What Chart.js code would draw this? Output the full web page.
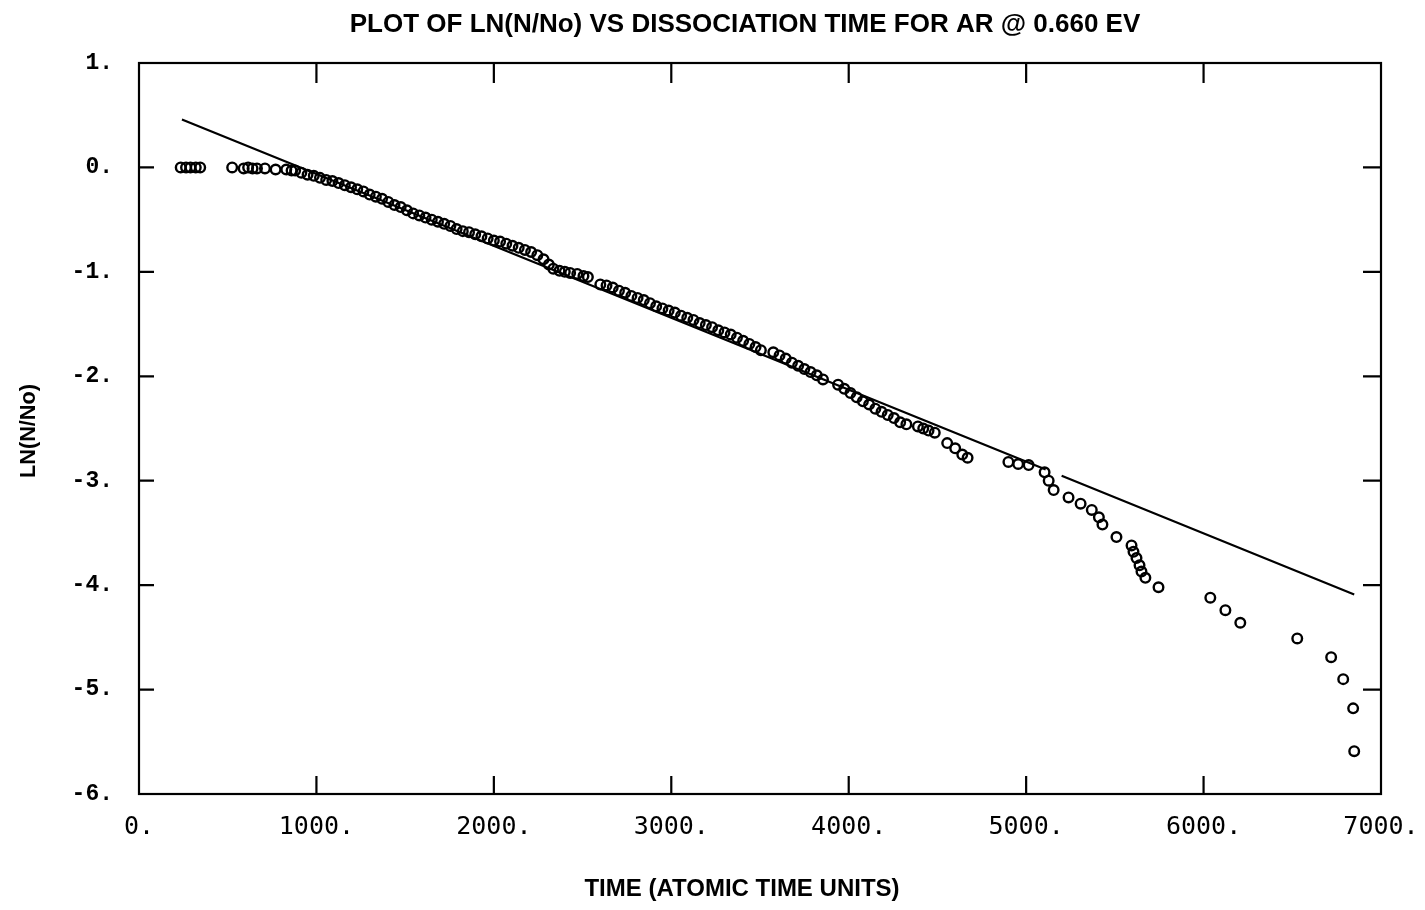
<!DOCTYPE html>
<html>
<head>
<meta charset="utf-8">
<script src="https://cdn.jsdelivr.net/npm/chart.js@4.4.0/dist/chart.umd.min.js"></script>
<style>
  html, body { margin: 0; padding: 0; background: #fff; }
  #wrap { width: 1425px; height: 910px; }
</style>
</head>
<body>
<div id="wrap"><canvas id="grafico" width="1425" height="910"></canvas></div>
<script>
// ================== Dados ==================
const titulo = 'PLOT OF LN(N/No) VS DISSOCIATION TIME FOR AR @ 0.660 EV';
const tituloX = 'TIME (ATOMIC TIME UNITS)';
const tituloY = 'LN(N/No)';

const xTicks = [0, 1000, 2000, 3000, 4000, 5000, 6000, 7000];
const yTicks = [1, 0, -1, -2, -3, -4, -5, -6];

// tempo de dissociacao (pontos "o")
const tempo = [
  235, 265, 290, 320, 345, 525, 590, 615, 640, 665, 710, 770, 830, 860,
  880, 915, 950, 985, 1020, 1055, 1090, 1125, 1160, 1195, 1230, 1265, 1300, 1335,
  1370, 1405, 1440, 1475, 1510, 1545, 1580, 1615, 1650, 1685, 1720, 1755, 1790, 1825,
  1860, 1895, 1930, 1965, 2000, 2035, 2070, 2105, 2140, 2175, 2210, 2245, 2280, 2310,
  2335, 2370, 2400, 2430, 2470, 2505, 2530, 2600, 2635, 2670, 2705, 2740, 2775, 2810,
  2845, 2880, 2915, 2950, 2985, 3020, 3055, 3090, 3125, 3160, 3195, 3230, 3265, 3300,
  3335, 3370, 3405, 3440, 3475, 3505, 3575, 3610, 3645, 3680, 3715, 3750, 3785, 3820,
  3855, 3940, 3975, 4010, 4045, 4080, 4115, 4150, 4185, 4220, 4255, 4290, 4325, 4390,
  4420, 4450, 4485, 4555, 4600, 4640, 4670,
  4900, 4955, 5014, 5104, 5127, 5155, 5239, 5307, 5370, 5410, 5430, 5509,
  5594, 5605, 5622, 5639, 5650, 5672, 5746, 6038, 6123, 6207, 6528, 6719, 6787, 6843, 6849
];
const lnN = [
  0.00, 0.00, 0.00, 0.00, 0.00, 0.00, -0.01, 0.00, -0.01, -0.01, -0.01, -0.02, -0.02, -0.03,
  -0.03, -0.05, -0.07, -0.08, -0.10, -0.12, -0.13, -0.15, -0.17, -0.19, -0.21, -0.23, -0.26, -0.28,
  -0.30, -0.33, -0.36, -0.38, -0.41, -0.44, -0.46, -0.48, -0.50, -0.52, -0.54, -0.56, -0.59, -0.61,
  -0.62, -0.64, -0.66, -0.68, -0.70, -0.71, -0.73, -0.75, -0.77, -0.79, -0.81, -0.84, -0.88, -0.93,
  -0.97, -0.99, -1.00, -1.01, -1.02, -1.04, -1.05, -1.12, -1.13, -1.15, -1.18, -1.20, -1.23, -1.25,
  -1.27, -1.30, -1.33, -1.35, -1.37, -1.39, -1.42, -1.44, -1.46, -1.49, -1.51, -1.53, -1.56, -1.58,
  -1.60, -1.63, -1.66, -1.69, -1.72, -1.75, -1.77, -1.80, -1.83, -1.87, -1.90, -1.93, -1.96, -1.99,
  -2.03, -2.08, -2.12, -2.16, -2.20, -2.24, -2.27, -2.31, -2.34, -2.37, -2.40, -2.44, -2.46, -2.48,
  -2.50, -2.52, -2.54, -2.64, -2.69, -2.75, -2.78,
  -2.82, -2.84, -2.85, -2.92, -3.00, -3.09, -3.16, -3.22, -3.28, -3.35, -3.42, -3.54,
  -3.62, -3.68, -3.74, -3.81, -3.87, -3.93, -4.02, -4.12, -4.24, -4.36, -4.51, -4.69, -4.90, -5.18, -5.59
];

// reta ajustada (com o trecho interrompido perto de 5150)
const retaX = [242, 5110, 5150, 5200, 6849];
const retaY = [0.458, -2.892, null, -2.953, -4.09];

// ================== Plugin: moldura, ticks internos e textos ==================
const molduraPlugin = {
  id: 'moldura',
  afterDraw(chart) {
    const { ctx, chartArea: a, scales } = chart;
    ctx.save();
    ctx.strokeStyle = '#000';
    ctx.lineWidth = 2.2;
    ctx.strokeRect(a.left, a.top, a.right - a.left, a.bottom - a.top);

    ctx.beginPath();
    xTicks.slice(1, -1).forEach(v => {
      const px = scales.x.getPixelForValue(v);
      ctx.moveTo(px, a.bottom); ctx.lineTo(px, a.bottom - 18);
      ctx.moveTo(px, a.top); ctx.lineTo(px, a.top + 20);
    });
    yTicks.slice(1, -1).forEach(v => {
      const py = scales.y.getPixelForValue(v);
      ctx.moveTo(a.left, py); ctx.lineTo(a.left + 15, py);
      ctx.moveTo(a.right, py); ctx.lineTo(a.right - 18, py);
    });
    ctx.stroke();

    ctx.fillStyle = '#000';
    ctx.textAlign = 'center';
    ctx.textBaseline = 'alphabetic';
    ctx.font = 'bold 26px "Liberation Sans", Arial, sans-serif';
    ctx.fillText(titulo, 745, 32, 796);
    ctx.font = 'bold 24px "Liberation Sans", Arial, sans-serif';
    ctx.fillText(tituloX, 742, 896, 334);
    ctx.font = 'bold 22px "Liberation Sans", Arial, sans-serif';
    ctx.translate(35, 431);
    ctx.rotate(-Math.PI / 2);
    ctx.fillText(tituloY, 0, 0, 94);
    ctx.restore();
  }
};

// ================== Grafico ==================
new Chart(document.getElementById('grafico').getContext('2d'), {
  type: 'scatter',
  data: {
    datasets: [
      {
        label: 'dados',
        data: tempo.map((t, i) => ({ x: t, y: lnN[i] })),
        pointStyle: 'circle',
        pointRadius: 4.8,
        borderWidth: 2.4,
        borderColor: '#000',
        backgroundColor: 'rgba(0,0,0,0)'
      },
      {
        type: 'line',
        label: 'ajuste',
        data: retaX.map((t, i) => ({ x: t, y: retaY[i] })),
        borderColor: '#000',
        borderWidth: 2.2,
        pointRadius: 0,
        spanGaps: false,
        fill: false
      }
    ]
  },
  options: {
    responsive: false,
    animation: false,
    layout: { autoPadding: false, padding: { left: 0, right: 44, top: 63, bottom: 0 } },
    plugins: { legend: { display: false }, tooltip: { enabled: false }, title: { display: false } },
    scales: {
      x: {
        type: 'linear', min: 0, max: 7000,
        afterFit(s) { s.height = 116; s.paddingLeft = 0; s.paddingRight = 0; },
        afterBuildTicks(s) { s.ticks = xTicks.map(v => ({ value: v })); },
        grid: { display: false, drawTicks: false },
        border: { display: false },
        ticks: {
          color: '#000', font: { family: '"DejaVu Sans Mono", monospace', size: 25 },
          padding: 18, maxRotation: 0, autoSkip: false, callback: v => v + '.'
        }
      },
      y: {
        type: 'linear', min: -6, max: 1,
        afterFit(s) { s.width = 139; s.paddingTop = 0; s.paddingBottom = 0; },
        afterBuildTicks(s) { s.ticks = yTicks.map(v => ({ value: v })); },
        grid: { display: false, drawTicks: false },
        border: { display: false },
        ticks: {
          color: '#000', font: { family: '"Liberation Mono", "Courier New", monospace', size: 23, weight: 'bold' },
          padding: 26, autoSkip: false, callback: v => v + '.'
        }
      }
    }
  },
  plugins: [molduraPlugin]
});
</script>
</body>
</html>
